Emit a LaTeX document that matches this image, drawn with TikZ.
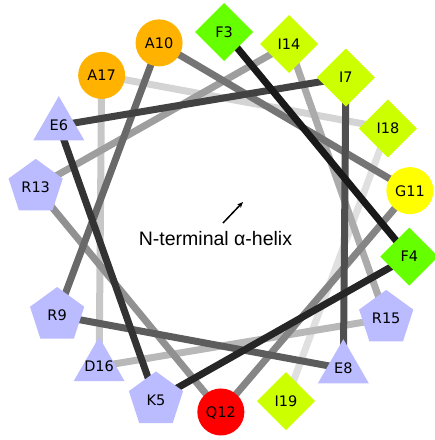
\documentclass[tikz,border=0pt]{standalone}
\usepackage{fontspec}
\setmainfont{Liberation Sans}
\newfontfamily\resfont{DejaVu Sans}
\usetikzlibrary{shapes.geometric,backgrounds,arrows.meta}
\definecolor{cOrange}{HTML}{FFB200}
\definecolor{cGreen}{HTML}{66FF00}
\definecolor{cLime}{HTML}{CCFF00}
\definecolor{cYellow}{HTML}{FFFF00}
\definecolor{cRed}{HTML}{FF0000}
\definecolor{cBlue}{HTML}{BBBBFF}
\newcommand{\zbox}[1]{\makebox[0pt][c]{\smash{\raisebox{-0.5\height}{#1}}}}
\begin{document}
\begin{tikzpicture}[x=1bp,y=1bp,
  resid/.style={draw=none,inner sep=0pt,outer sep=0pt,text=black,
    font=\resfont\fontsize{14.5bp}{16bp}\selectfont},
  rc/.style={resid,circle,fill=#1,minimum size=47bp},
  rd/.style={resid,diamond,aspect=1,fill=#1,minimum size=58bp},
  rt/.style={resid,regular polygon,regular polygon sides=3,fill=cBlue,minimum size=58.8bp},
  rp/.style={resid,regular polygon,regular polygon sides=5,fill=cBlue,minimum size=57bp},
  link/.style={line width=7bp,draw=black!#1}]
\useasboundingbox (-222.5,-218) rectangle (212.5,222);
% residues
\node[rd=cGreen] (F3) at (89.5:190) {\zbox{F3}};
\node[rd=cGreen] (F4) at (-10.5:190) {\zbox{F4}};
\node[rp] (K5) at (-110.5:190) {\zbox{K5}};
\node[rt] (E6) at (149.5:190) {\zbox{E6}};
\node[rd=cLime] (I7) at (49.5:190) {\zbox{I7}};
\node[rt] (E8) at (-50.5:190) {\zbox{E8}};
\node[rp] (R9) at (-150.5:190) {\zbox{R9}};
\node[rc=cOrange] (A10) at (109.5:190) {\zbox{A10}};
\node[rc=cYellow] (G11) at (9.5:190) {\zbox{G11}};
\node[rc=cRed] (Q12) at (-90.5:190) {\zbox{Q12}};
\node[rp] (R13) at (169.5:190) {\zbox{R13}};
\node[rd=cLime] (I14) at (69.5:190) {\zbox{I14}};
\node[rp] (R15) at (-30.5:190) {\zbox{R15}};
\node[rt] (D16) at (-130.5:190) {\zbox{D16}};
\node[rc=cOrange] (A17) at (129.5:190) {\zbox{A17}};
\node[rd=cLime] (I18) at (29.5:190) {\zbox{I18}};
\node[rd=cLime] (I19) at (-70.5:190) {\zbox{I19}};
% connectors
\begin{scope}[on background layer]
\draw[link=12] (I18.center) -- (I19.center);
\draw[link=17] (A17.center) -- (I18.center);
\draw[link=22] (D16.center) -- (A17.center);
\draw[link=28] (R15.center) -- (D16.center);
\draw[link=33] (I14.center) -- (R15.center);
\draw[link=38] (R13.center) -- (I14.center);
\draw[link=43] (Q12.center) -- (R13.center);
\draw[link=48] (G11.center) -- (Q12.center);
\draw[link=54] (A10.center) -- (G11.center);
\draw[link=59] (R9.center) -- (A10.center);
\draw[link=64] (E8.center) -- (R9.center);
\draw[link=69] (I7.center) -- (E8.center);
\draw[link=74] (E6.center) -- (I7.center);
\draw[link=80] (K5.center) -- (E6.center);
\draw[link=85] (F4.center) -- (K5.center);
\draw[link=90] (F3.center) -- (F4.center);
\end{scope}
% centre title and arrow
\node[anchor=base,inner sep=0pt,font=\fontsize{19.5bp}{22bp}\selectfont] (title) at (-7,-24) {N-terminal α-helix};
\coordinate (arrS) at (0.5,-1);
\coordinate (arrE) at (20.5,20);
\draw[line width=1.5bp,-{Stealth[length=6bp,width=5bp]}] (arrS) -- (arrE);
\end{tikzpicture}
\end{document}
